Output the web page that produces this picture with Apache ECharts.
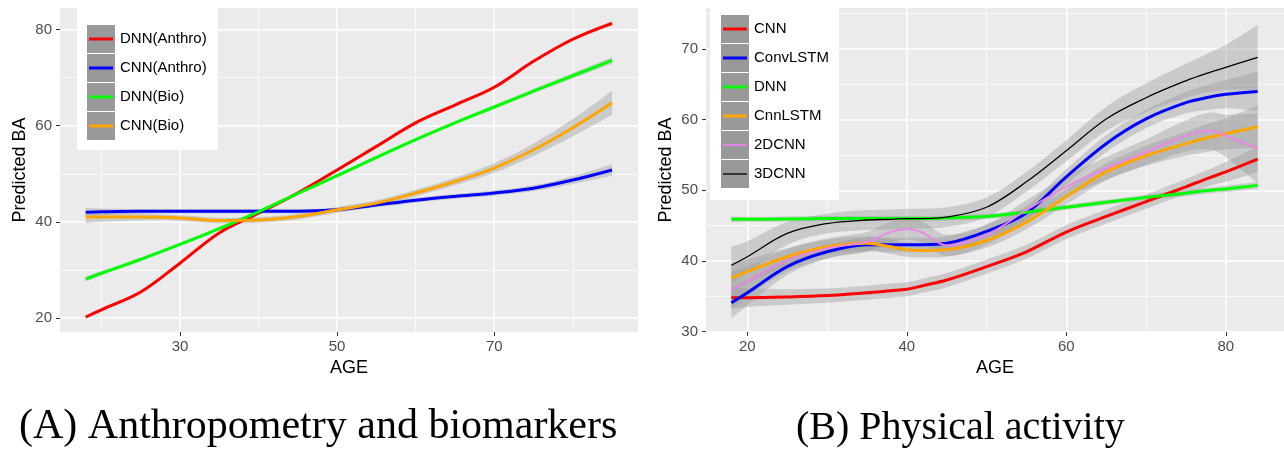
<!DOCTYPE html>
<html>
<head>
<meta charset="utf-8">
<script src="https://cdn.jsdelivr.net/npm/echarts@6/dist/echarts.min.js"></script>
<style>
  html, body { margin: 0; padding: 0; background: #ffffff; }
  #chart { width: 1284px; height: 454px; }
</style>
</head>
<body>
<div id="chart"></div>
<script>
// ================= DATA =================
// Panel A: Anthropometry and biomarkers
const agesA = [18, 20, 25, 30, 35, 40, 45, 50, 55, 60, 65, 70, 75, 80, 85];
const dnnAnthro   = [20.2, 21.7, 25.4, 31.4, 37.7, 41.8, 46.0, 50.8, 55.7, 60.6, 64.3, 68.0, 73.4, 78.0, 81.3];
const seDnnAnthro = [0.35, 0.35, 0.35, 0.35, 0.35, 0.35, 0.35, 0.35, 0.35, 0.35, 0.35, 0.35, 0.35, 0.4, 0.5];
const cnnAnthro   = [42.0, 42.1, 42.2, 42.2, 42.2, 42.2, 42.2, 42.5, 43.5, 44.5, 45.3, 46.0, 47.0, 48.7, 50.8];
const seCnnAnthro = [0.9, 0.7, 0.5, 0.45, 0.45, 0.45, 0.45, 0.45, 0.45, 0.5, 0.5, 0.55, 0.6, 0.8, 1.2];
const dnnBio      = [28.1, 29.3, 32.2, 35.3, 38.6, 42.1, 45.9, 49.6, 53.4, 57.1, 60.6, 63.9, 67.2, 70.4, 73.6];
const seDnnBio    = [0.5, 0.45, 0.4, 0.35, 0.35, 0.35, 0.35, 0.35, 0.35, 0.35, 0.35, 0.4, 0.45, 0.55, 0.7];
const cnnBio      = [41.0, 41.0, 41.0, 40.8, 40.3, 40.4, 41.1, 42.5, 43.9, 46.0, 48.4, 51.2, 55.0, 59.6, 64.8];
const seCnnBio    = [1.3, 1.0, 0.7, 0.6, 0.6, 0.6, 0.6, 0.6, 0.6, 0.7, 0.8, 1.0, 1.3, 1.8, 2.5];
const namesA = ['DNN(Anthro)', 'CNN(Anthro)', 'DNN(Bio)', 'CNN(Bio)'];

// Panel B: Physical activity
const agesB    = [18, 20, 25, 30, 35, 38, 40, 42, 45, 50, 55, 60, 65, 70, 75, 78, 80, 84];
const cnn      = [34.8, 34.8, 34.9, 35.1, 35.5, 35.8, 36.0, 36.5, 37.3, 39.2, 41.3, 44.1, 46.3, 48.4, 50.5, 51.8, 52.6, 54.4];
const seCnn    = [1.5, 1.3, 1.1, 1.0, 1.0, 1.0, 1.0, 1.0, 1.0, 1.0, 1.0, 1.0, 1.0, 1.0, 1.1, 1.2, 1.4, 1.8];
const convLSTM = [34.1, 35.5, 39.2, 41.3, 42.3, 42.3, 42.3, 42.3, 42.5, 44.2, 46.8, 51.9, 56.6, 60.1, 62.4, 63.2, 63.6, 64.0];
const seConvLSTM = [2.2, 1.8, 1.2, 1.0, 1.0, 1.0, 1.0, 1.0, 1.0, 1.0, 1.0, 1.1, 1.2, 1.3, 1.5, 1.8, 2.0, 2.8];
const dnn      = [45.9, 45.9, 45.95, 46.0, 46.0, 46.0, 46.0, 46.0, 46.1, 46.3, 46.9, 47.6, 48.3, 49.0, 49.6, 50.0, 50.2, 50.7];
const seDnn    = [0.4, 0.35, 0.35, 0.35, 0.35, 0.35, 0.35, 0.35, 0.35, 0.35, 0.35, 0.35, 0.35, 0.35, 0.4, 0.4, 0.45, 0.5];
const cnnLSTM  = [37.6, 38.5, 40.6, 42.0, 42.5, 42.0, 41.6, 41.5, 41.6, 42.9, 45.5, 49.1, 52.6, 54.9, 56.6, 57.5, 58.0, 59.0];
const seCnnLSTM = [2.0, 1.7, 1.2, 1.0, 1.0, 1.0, 1.0, 1.0, 1.0, 1.0, 1.0, 1.1, 1.2, 1.4, 1.7, 2.0, 2.2, 3.0];
const cnn2D    = [35.9, 37.1, 40.1, 41.8, 42.7, 44.1, 44.5, 44.0, 42.2, 43.7, 47.2, 50.5, 53.1, 55.4, 57.7, 58.4, 57.7, 55.9];
const seCnn2D  = [2.6, 2.1, 1.6, 1.4, 1.4, 1.5, 1.5, 1.5, 1.5, 1.4, 1.4, 1.5, 1.6, 1.8, 2.2, 2.6, 3.0, 5.0];
const cnn3D    = [39.4, 40.6, 43.9, 45.3, 45.8, 45.9, 46.0, 46.0, 46.2, 47.6, 51.2, 55.6, 60.1, 63.1, 65.5, 66.7, 67.4, 68.8];
const seCnn3D  = [2.6, 2.2, 1.6, 1.4, 1.4, 1.4, 1.4, 1.4, 1.4, 1.4, 1.4, 1.5, 1.7, 2.0, 2.4, 2.8, 3.2, 4.6];
const namesB = ['CNN', 'ConvLSTM', 'DNN', 'CnnLSTM', '2DCNN', '3DCNN'];

// Axis ticks
const xTicksA = [30, 50, 70];          const xMinorA = [20, 40, 60, 80];
const yTicksA = [20, 40, 60, 80];      const yMinorA = [30, 50, 70];
const xTicksB = [20, 40, 60, 80];      const xMinorB = [30, 50, 70];
const yTicksB = [30, 40, 50, 60, 70];  const yMinorB = [35, 45, 55, 65, 75];
const xRangeA = [14.73, 88.3];  const yRangeA = [17.08, 84.5];
const xRangeB = [14.82, 87.3];  const yRangeB = [29.95, 75.8];

const xTitle = 'AGE';
const yTitle = 'Predicted BA';
const captionA = '(A) Anthropometry and biomarkers';
const captionB = '(B) Physical activity';

// ================= STYLES =================
const SANS = 'Liberation Sans';
const SERIF = 'Liberation Serif';
const colorsA = ['#FF0000', '#0000FF', '#00FF00', '#FFA500'];
const widthsA = [3, 3, 3, 3];
const colorsB = ['#FF0000', '#0000FF', '#00FF00', '#FFA500', '#EE82EE', '#000000'];
const widthsB = [3, 3, 3, 3, 1.8, 1.3];
const BAND = 'rgba(153,153,153,0.4)';
const SMOOTH = 0.35;

const groupsA = [
  { y: dnnAnthro, se: seDnnAnthro },
  { y: cnnAnthro, se: seCnnAnthro },
  { y: dnnBio, se: seDnnBio },
  { y: cnnBio, se: seCnnBio }
];
const groupsB = [
  { y: cnn, se: seCnn },
  { y: convLSTM, se: seConvLSTM },
  { y: dnn, se: seDnn },
  { y: cnnLSTM, se: seCnnLSTM },
  { y: cnn2D, se: seCnn2D },
  { y: cnn3D, se: seCnn3D }
];

function smoothSegs(pts, s) {
  const n = pts.length, cpN = [], cpP = [];
  for (let i = 0; i < n; i++) {
    const p = pts[i];
    if (i === 0 || i === n - 1) { cpN[i] = p; cpP[i] = p; continue; }
    const a = pts[i - 1], b = pts[i + 1];
    const vx = b[0] - a[0], vy = b[1] - a[1];
    const d0 = Math.hypot(p[0] - a[0], p[1] - a[1]);
    const d1 = Math.hypot(b[0] - p[0], b[1] - p[1]);
    const r1 = d1 / (d0 + d1), r0 = d0 / (d0 + d1);
    cpN[i] = [p[0] + vx * s * r1, p[1] + vy * s * r1];
    cpP[i] = [p[0] - vx * s * r0, p[1] - vy * s * r0];
  }
  let d = '';
  for (let i = 0; i < n - 1; i++) {
    d += 'C' + cpN[i][0] + ',' + cpN[i][1] + ' ' + cpP[i + 1][0] + ',' + cpP[i + 1][1] + ' ' + pts[i + 1][0] + ',' + pts[i + 1][1] + ' ';
  }
  return d;
}

function bandSeries(name, ages, g, axisIdx) {
  return {
    type: 'custom',
    name: name + ' CI',
    xAxisIndex: axisIdx, yAxisIndex: axisIdx,
    silent: true,
    z: 2,
    data: ages.map((a, i) => [a, g.y[i] - g.se[i], g.y[i] + g.se[i]]),
    encode: { x: 0, y: [1, 2] },
    renderItem: function (params, api) {
      if (params.dataIndex !== 0) return null;
      const n = params.dataInsideLength;
      const up = [], lo = [];
      for (let i = 0; i < n; i++) {
        up.push(api.coord([api.value(0, i), api.value(2, i)]));
        lo.push(api.coord([api.value(0, i), api.value(1, i)]));
      }
      lo.reverse();
      const d = 'M' + up[0][0] + ',' + up[0][1] + ' ' + smoothSegs(up, SMOOTH) +
                'L' + lo[0][0] + ',' + lo[0][1] + ' ' + smoothSegs(lo, SMOOTH) + 'Z';
      return { type: 'path', shape: { pathData: d }, style: { fill: BAND, stroke: null } };
    }
  };
}

function lineSeries(name, ages, g, color, width, axisIdx) {
  return {
    type: 'line',
    name: name,
    xAxisIndex: axisIdx, yAxisIndex: axisIdx,
    data: ages.map((a, i) => [a, g.y[i]]),
    smooth: SMOOTH,
    symbol: 'none', showSymbol: false,
    color: color,
    lineStyle: { color: color, width: width },
    itemStyle: { color: color },
    silent: true,
    z: 2
  };
}

const series = [];
groupsA.forEach((g, k) => {
  series.push(bandSeries(namesA[k], agesA, g, 0));
  series.push(lineSeries(namesA[k], agesA, g, colorsA[k], widthsA[k], 0));
});
groupsB.forEach((g, k) => {
  series.push(bandSeries(namesB[k], agesB, g, 2));
  series.push(lineSeries(namesB[k], agesB, g, colorsB[k], widthsB[k], 2));
});

function majorAxis(dim, gridIndex, range, ticks, nameGap) {
  const isX = dim === 'x';
  return {
    type: 'value', gridIndex: gridIndex,
    min: range[0], max: range[1],
    position: isX ? 'bottom' : 'left',
    name: isX ? xTitle : yTitle,
    nameLocation: 'middle', nameGap: nameGap,
    nameTextStyle: { color: '#000000', fontSize: 18, fontFamily: SANS },
    axisLine: { show: false, onZero: false },
    axisTick: { show: true, length: 4, lineStyle: { color: '#333333', width: 1 }, customValues: ticks },
    axisLabel: { show: true, customValues: ticks, color: '#4D4D4D', fontSize: 15, fontFamily: SANS, margin: isX ? 7 : 8 },
    splitLine: { show: true, lineStyle: { color: '#FFFFFF', width: 1.5 } },
    minorSplitLine: { show: false }
  };
}
function minorAxis(dim, gridIndex, range, ticks) {
  const isX = dim === 'x';
  return {
    type: 'value', gridIndex: gridIndex,
    min: range[0], max: range[1],
    position: isX ? 'top' : 'right',
    axisLine: { show: false, onZero: false },
    axisTick: { show: false, customValues: ticks },
    axisLabel: { show: false, customValues: ticks },
    splitLine: { show: true, lineStyle: { color: '#FFFFFF', width: 0.7 } }
  };
}

function strip(th) {
  const a = (14 - th / 2).toFixed(2), b = (14 + th / 2).toFixed(2);
  return 'path://M0,0M28,0M28,28M0,28M2,' + a + 'H26V' + b + 'H2Z';
}

const legendText = { color: '#000000', fontSize: 15, fontFamily: SANS };

const option = {
  animation: false,
  backgroundColor: '#FFFFFF',
  title: [
    { text: captionA, left: 19, top: 406, padding: 0,
      textStyle: { fontFamily: SERIF, fontSize: 42, fontWeight: 'normal', color: '#000000' } },
    { text: captionB, left: 796, top: 408, padding: 0,
      textStyle: { fontFamily: SERIF, fontSize: 40, fontWeight: 'normal', color: '#000000' } }
  ],
  grid: [
    { left: 60, top: 8, width: 578, height: 324, show: true, backgroundColor: '#EBEBEB', borderWidth: 0, containLabel: false },
    { left: 706, top: 8, width: 578, height: 324, show: true, backgroundColor: '#EBEBEB', borderWidth: 0, containLabel: false }
  ],
  xAxis: [
    majorAxis('x', 0, xRangeA, xTicksA, 24),
    minorAxis('x', 0, xRangeA, xMinorA),
    majorAxis('x', 1, xRangeB, xTicksB, 24),
    minorAxis('x', 1, xRangeB, xMinorB)
  ],
  yAxis: [
    majorAxis('y', 0, yRangeA, yTicksA, 31),
    minorAxis('y', 0, yRangeA, yMinorA),
    majorAxis('y', 1, yRangeB, yTicksB, 31),
    minorAxis('y', 1, yRangeB, yMinorB)
  ],
  legend: [
    { orient: 'vertical', left: 77, top: 8, padding: [17, 11, 10, 10], backgroundColor: '#FFFFFF',
      itemWidth: 28, itemHeight: 28, itemGap: 1, icon: 'rect', selectedMode: false,
      itemStyle: { color: '#999999', borderWidth: 0 }, textStyle: legendText, data: namesA },
    { orient: 'vertical', left: 87, top: 25, padding: 0, z: 6,
      itemWidth: 28, itemHeight: 28, itemGap: 1, selectedMode: false,
      itemStyle: { borderWidth: 0 }, formatter: function () { return ''; },
      data: namesA.map((n, k) => ({ name: n, icon: strip(widthsA[k]), itemStyle: { color: colorsA[k], borderWidth: 0 } })) },
    { orient: 'vertical', left: 710, top: 8, padding: [7, 10, 12, 11], backgroundColor: '#FFFFFF',
      itemWidth: 28, itemHeight: 28, itemGap: 1, icon: 'rect', selectedMode: false,
      itemStyle: { color: '#999999', borderWidth: 0 }, textStyle: legendText, data: namesB },
    { orient: 'vertical', left: 721, top: 15, padding: 0, z: 6,
      itemWidth: 28, itemHeight: 28, itemGap: 1, selectedMode: false,
      itemStyle: { borderWidth: 0 }, formatter: function () { return ''; },
      data: namesB.map((n, k) => ({ name: n, icon: strip(widthsB[k]), itemStyle: { color: colorsB[k], borderWidth: 0 } })) }
  ],
  series: series
};

const chart = echarts.init(document.getElementById('chart'), null, { renderer: 'canvas' });
chart.setOption(option);
</script>
</body>
</html>
